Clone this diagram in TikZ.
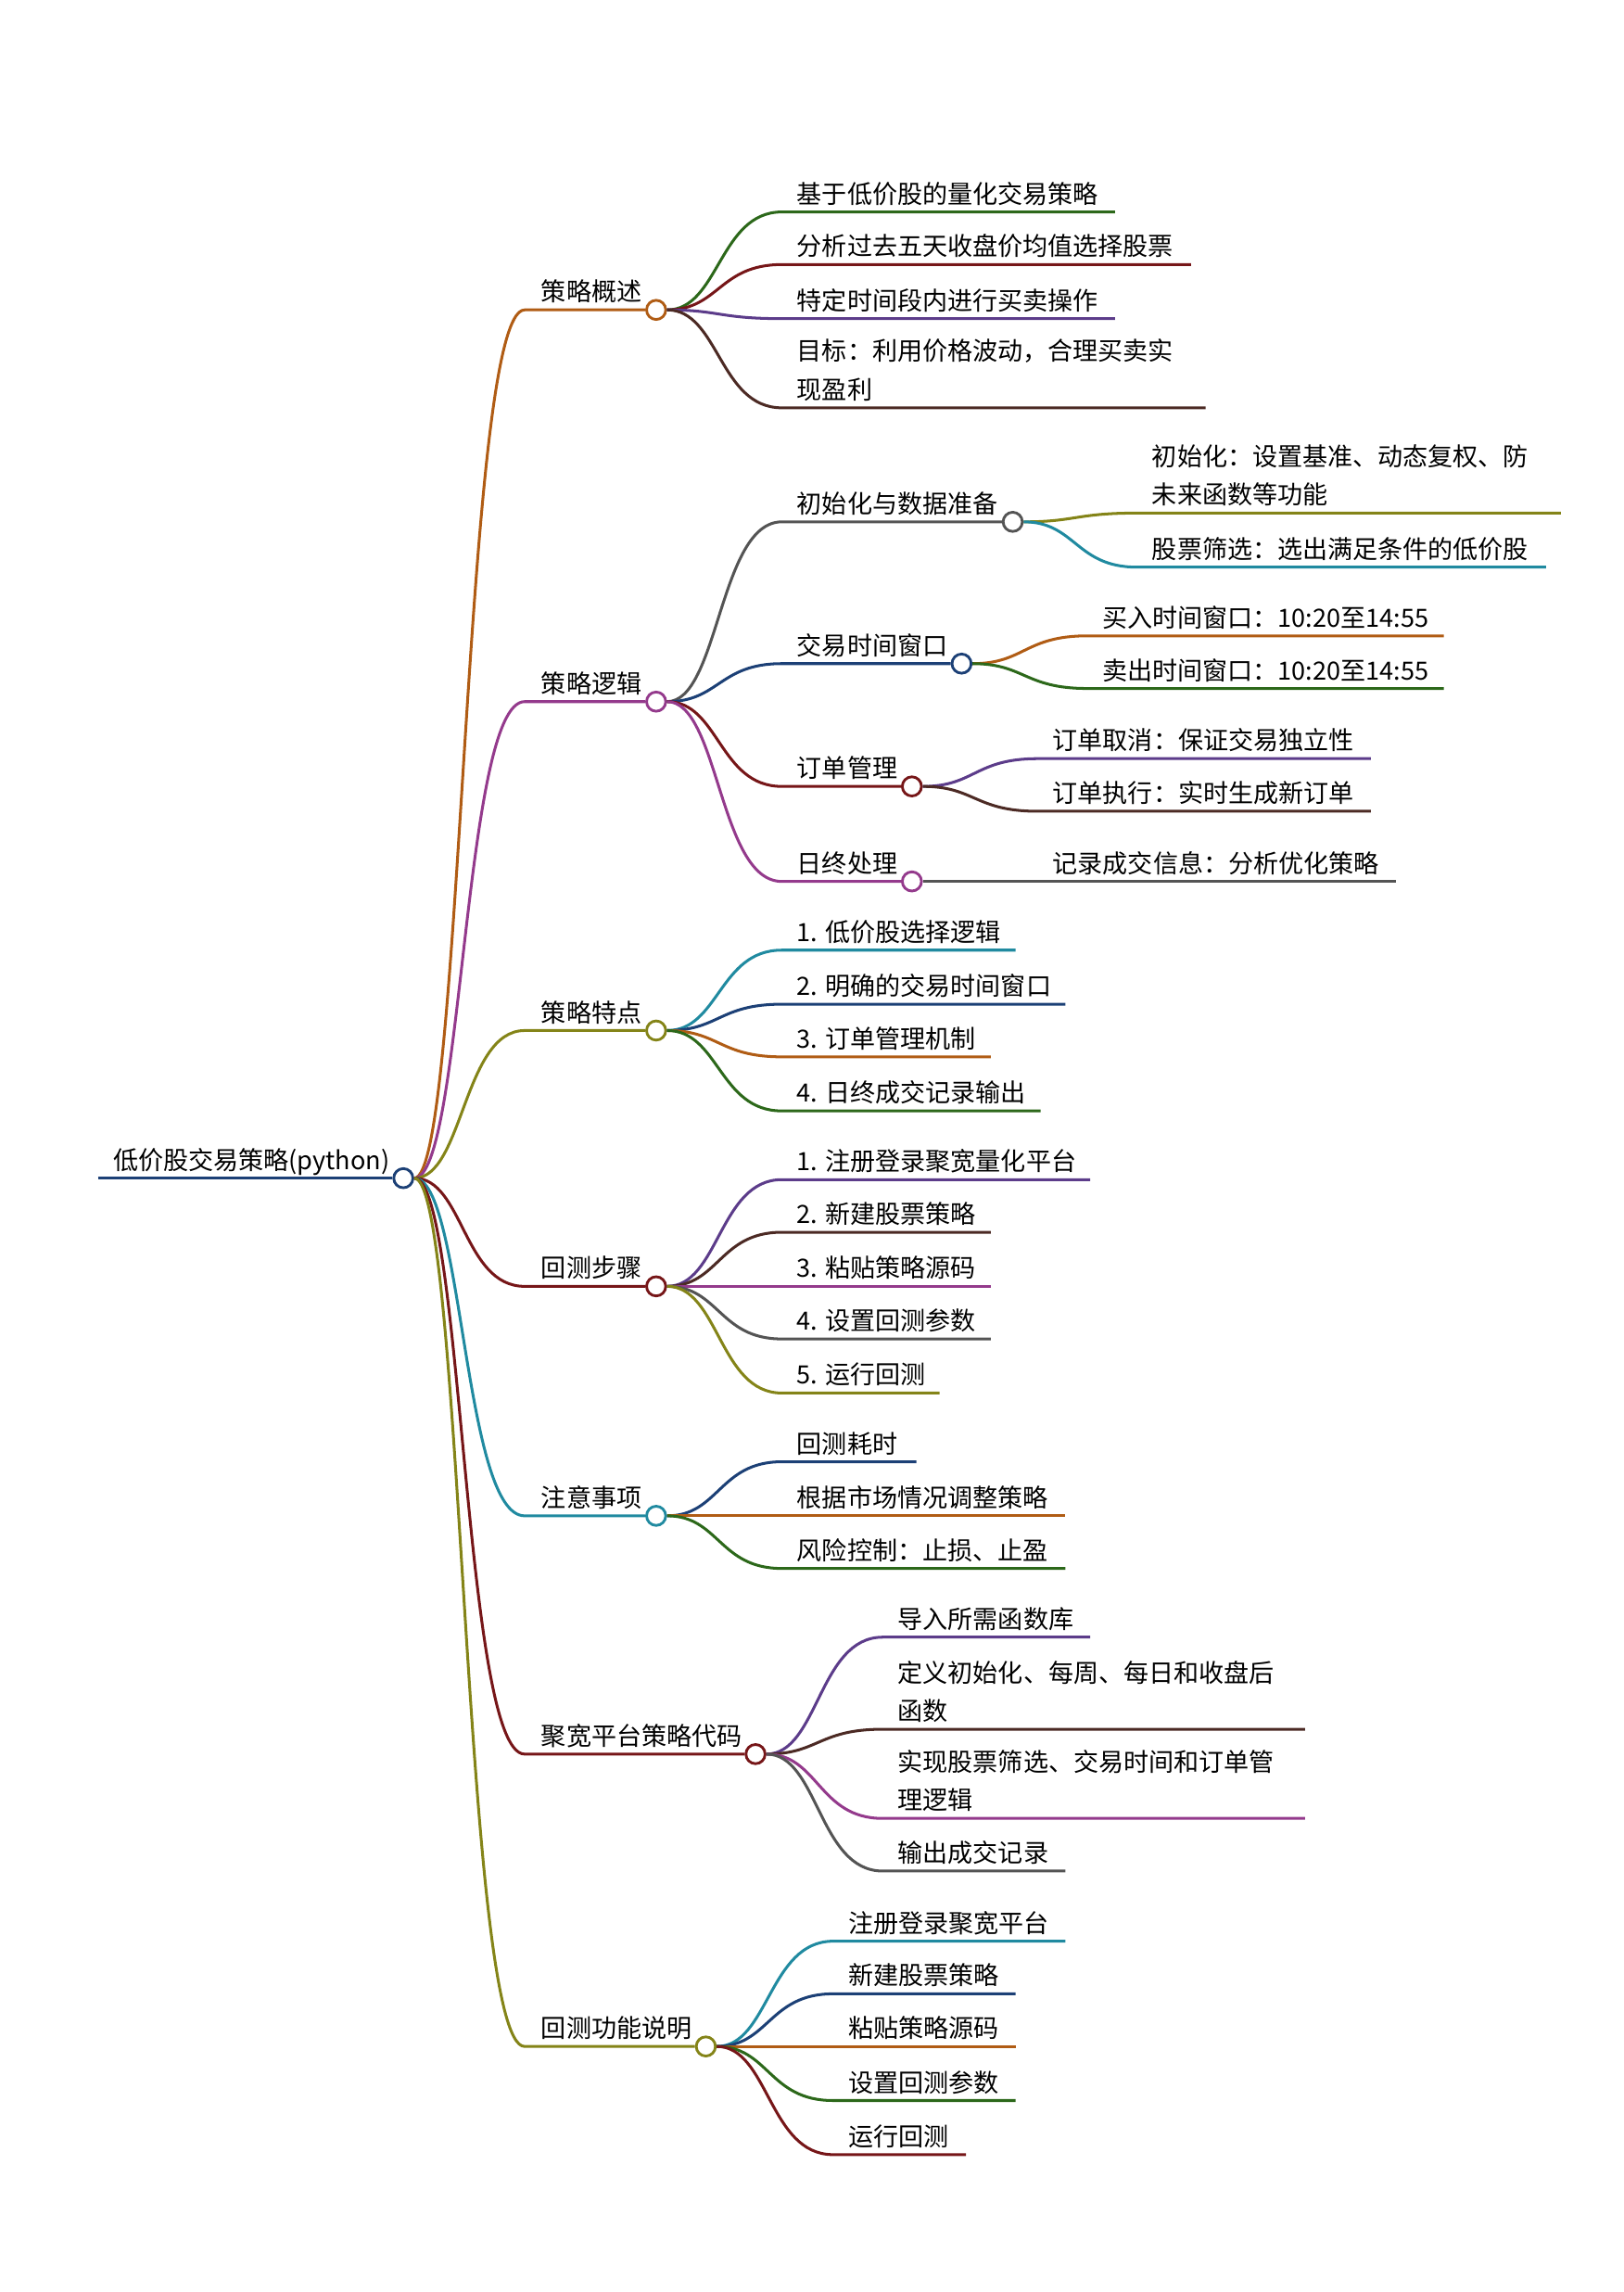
\documentclass[tikz,border=0pt]{standalone}
\usepackage{fontspec}
\setmainfont{Noto Sans CJK SC}

\definecolor{cOrange}{RGB}{176,92,20}
\definecolor{cMagenta}{RGB}{148,58,140}
\definecolor{cOlive}{RGB}{132,132,24}
\definecolor{cRed}{RGB}{118,22,24}
\definecolor{cTeal}{RGB}{32,138,160}
\definecolor{cBlue}{RGB}{28,64,118}
\definecolor{cGreen}{RGB}{44,104,26}
\definecolor{cPurple}{RGB}{92,60,138}
\definecolor{cBrown}{RGB}{76,42,36}
\definecolor{cGray}{RGB}{84,84,84}

\tikzset{
  branch/.style={line width=0.95pt},
  knot/.style={circle, draw, fill=white, line width=0.9pt, minimum size=6.5pt, inner sep=0pt},
  topic/.style={anchor=base west, inner sep=0pt, align=left}
}

\begin{document}
\begin{tikzpicture}[x=0.495pt, y=-0.495pt, every node/.style={font=\fontsize{8.5pt}{13pt}\selectfont}]
    \useasboundingbox (0,0) rectangle (1111,1568);

    % Root
    \node[knot, draw=cBlue] (root) at (276,806) {};
    \coordinate (rootS) at (67,806);
    \node[topic] (rootT) at (77,800) {低价股交易策略(python)};
    \draw[branch, cBlue] (rootS) -- (root);

    % Main branches
    \node[knot, draw=cOrange] (gl) at (449,212) {};
    \node[knot, draw=cMagenta] (lj) at (449,480) {};
    \node[knot, draw=cOlive] (td) at (449,705) {};
    \node[knot, draw=cRed] (bz) at (449,880) {};
    \node[knot, draw=cTeal] (zy) at (449,1037) {};
    \node[knot, draw=cRed] (jk) at (517,1200) {};
    \node[knot, draw=cOlive] (sm) at (483,1400) {};

    \coordinate (glS) at (359,212);
    \coordinate (ljS) at (359,480);
    \coordinate (tdS) at (359,705);
    \coordinate (bzS) at (359,880);
    \coordinate (zyS) at (359,1037);
    \coordinate (jkS) at (359,1200);
    \coordinate (smS) at (359,1400);

    \node[topic] (glT) at (370,206) {策略概述};
    \node[topic] (ljT) at (370,474) {策略逻辑};
    \node[topic] (tdT) at (370,699) {策略特点};
    \node[topic] (bzT) at (370,874) {回测步骤};
    \node[topic] (zyT) at (370,1031) {注意事项};
    \node[topic] (jkT) at (370,1194) {聚宽平台策略代码};
    \node[topic] (smT) at (370,1394) {回测功能说明};

    \draw[branch, cOrange] (root) .. controls (317,806) and (317,212) .. (glS) -- (gl);
    \draw[branch, cMagenta] (root) .. controls (317,806) and (317,480) .. (ljS) -- (lj);
    \draw[branch, cOlive] (root) .. controls (317,806) and (317,705) .. (tdS) -- (td);
    \draw[branch, cRed] (root) .. controls (317,806) and (317,880) .. (bzS) -- (bz);
    \draw[branch, cTeal] (root) .. controls (317,806) and (317,1037) .. (zyS) -- (zy);
    \draw[branch, cRed] (root) .. controls (317,806) and (317,1200) .. (jkS) -- (jk);
    \draw[branch, cOlive] (root) .. controls (317,806) and (317,1400) .. (smS) -- (sm);

    % 策略概述
    \coordinate (gl1) at (535,145); \coordinate (gl1e) at (763,145);
    \coordinate (gl2) at (535,181); \coordinate (gl2e) at (815,181);
    \coordinate (gl3) at (535,218); \coordinate (gl3e) at (763,218);
    \coordinate (gl4) at (535,279); \coordinate (gl4e) at (825,279);
    \node[topic] (gl1t) at (545,139) {基于低价股的量化交易策略};
    \node[topic] (gl2t) at (545,175) {分析过去五天收盘价均值选择股票};
    \node[topic] (gl3t) at (545,212) {特定时间段内进行买卖操作};
    \node[topic] (gl4t) at (545,273) {目标：利用价格波动，合理买卖实\\现盈利};
    \draw[branch, cGreen] (gl) .. controls (492,212) and (492,145) .. (gl1) -- (gl1e);
    \draw[branch, cRed] (gl) .. controls (492,212) and (492,181) .. (gl2) -- (gl2e);
    \draw[branch, cPurple] (gl) .. controls (492,212) and (492,218) .. (gl3) -- (gl3e);
    \draw[branch, cBrown] (gl) .. controls (492,212) and (492,279) .. (gl4) -- (gl4e);

    % 策略逻辑
    \node[knot, draw=cGray] (csh) at (693,357) {};
    \node[knot, draw=cBlue] (jy) at (658,454) {};
    \node[knot, draw=cRed] (dd) at (624,538) {};
    \node[knot, draw=cMagenta] (rz) at (624,603) {};
    \coordinate (cshS) at (535,357);
    \coordinate (jyS) at (535,454);
    \coordinate (ddS) at (535,538);
    \coordinate (rzS) at (535,603);
    \node[topic] (cshT) at (545,351) {初始化与数据准备};
    \node[topic] (jyT) at (545,448) {交易时间窗口};
    \node[topic] (ddT) at (545,532) {订单管理};
    \node[topic] (rzT) at (545,597) {日终处理};
    \draw[branch, cGray] (lj) .. controls (492,480) and (492,357) .. (cshS) -- (csh);
    \draw[branch, cBlue] (lj) .. controls (492,480) and (492,454) .. (jyS) -- (jy);
    \draw[branch, cRed] (lj) .. controls (492,480) and (492,538) .. (ddS) -- (dd);
    \draw[branch, cMagenta] (lj) .. controls (492,480) and (492,603) .. (rzS) -- (rz);

    % 初始化与数据准备
    \coordinate (csh1) at (778,351); \coordinate (csh1e) at (1068,351);
    \coordinate (csh2) at (778,388); \coordinate (csh2e) at (1058,388);
    \node[topic] (csh1t) at (788,345) {初始化：设置基准、动态复权、防\\未来函数等功能};
    \node[topic] (csh2t) at (788,382) {股票筛选：选出满足条件的低价股};
    \draw[branch, cOlive] (csh) .. controls (736,357) and (736,351) .. (csh1) -- (csh1e);
    \draw[branch, cTeal] (csh) .. controls (736,357) and (736,388) .. (csh2) -- (csh2e);

    % 交易时间窗口
    \coordinate (jy1) at (744,435); \coordinate (jy1e) at (988,435);
    \coordinate (jy2) at (744,471); \coordinate (jy2e) at (988,471);
    \node[topic] (jy1t) at (754,429) {买入时间窗口：10:20至14:55};
    \node[topic] (jy2t) at (754,465) {卖出时间窗口：10:20至14:55};
    \draw[branch, cOrange] (jy) .. controls (701,454) and (701,435) .. (jy1) -- (jy1e);
    \draw[branch, cGreen] (jy) .. controls (701,454) and (701,471) .. (jy2) -- (jy2e);

    % 订单管理
    \coordinate (dd1) at (710,519); \coordinate (dd1e) at (938,519);
    \coordinate (dd2) at (710,555); \coordinate (dd2e) at (938,555);
    \node[topic] (dd1t) at (720,513) {订单取消：保证交易独立性};
    \node[topic] (dd2t) at (720,549) {订单执行：实时生成新订单};
    \draw[branch, cPurple] (dd) .. controls (667,538) and (667,519) .. (dd1) -- (dd1e);
    \draw[branch, cBrown] (dd) .. controls (667,538) and (667,555) .. (dd2) -- (dd2e);

    % 日终处理
    \coordinate (rz1) at (710,603); \coordinate (rz1e) at (955,603);
    \node[topic] (rz1t) at (720,597) {记录成交信息：分析优化策略};
    \draw[branch, cGray] (rz) -- (rz1) -- (rz1e);

    % 策略特点
    \coordinate (td1) at (535,650); \coordinate (td1e) at (695,650);
    \coordinate (td2) at (535,687); \coordinate (td2e) at (729,687);
    \coordinate (td3) at (535,723); \coordinate (td3e) at (678,723);
    \coordinate (td4) at (535,760); \coordinate (td4e) at (712,760);
    \node[topic] (td1t) at (545,644) {1. 低价股选择逻辑};
    \node[topic] (td2t) at (545,681) {2. 明确的交易时间窗口};
    \node[topic] (td3t) at (545,717) {3. 订单管理机制};
    \node[topic] (td4t) at (545,754) {4. 日终成交记录输出};
    \draw[branch, cTeal] (td) .. controls (492,705) and (492,650) .. (td1) -- (td1e);
    \draw[branch, cBlue] (td) .. controls (492,705) and (492,687) .. (td2) -- (td2e);
    \draw[branch, cOrange] (td) .. controls (492,705) and (492,723) .. (td3) -- (td3e);
    \draw[branch, cGreen] (td) .. controls (492,705) and (492,760) .. (td4) -- (td4e);

    % 回测步骤
    \coordinate (bz1) at (535,807); \coordinate (bz1e) at (746,807);
    \coordinate (bz2) at (535,843); \coordinate (bz2e) at (678,843);
    \coordinate (bz3) at (535,880); \coordinate (bz3e) at (678,880);
    \coordinate (bz4) at (535,916); \coordinate (bz4e) at (678,916);
    \coordinate (bz5) at (535,953); \coordinate (bz5e) at (643,953);
    \node[topic] (bz1t) at (545,801) {1. 注册登录聚宽量化平台};
    \node[topic] (bz2t) at (545,837) {2. 新建股票策略};
    \node[topic] (bz3t) at (545,874) {3. 粘贴策略源码};
    \node[topic] (bz4t) at (545,910) {4. 设置回测参数};
    \node[topic] (bz5t) at (545,947) {5. 运行回测};
    \draw[branch, cPurple] (bz) .. controls (492,880) and (492,807) .. (bz1) -- (bz1e);
    \draw[branch, cBrown] (bz) .. controls (492,880) and (492,843) .. (bz2) -- (bz2e);
    \draw[branch, cMagenta] (bz) -- (bz3) -- (bz3e);
    \draw[branch, cGray] (bz) .. controls (492,880) and (492,916) .. (bz4) -- (bz4e);
    \draw[branch, cOlive] (bz) .. controls (492,880) and (492,953) .. (bz5) -- (bz5e);

    % 注意事项
    \coordinate (zy1) at (535,1000); \coordinate (zy1e) at (627,1000);
    \coordinate (zy2) at (535,1037); \coordinate (zy2e) at (729,1037);
    \coordinate (zy3) at (535,1073); \coordinate (zy3e) at (729,1073);
    \node[topic] (zy1t) at (545,994) {回测耗时};
    \node[topic] (zy2t) at (545,1031) {根据市场情况调整策略};
    \node[topic] (zy3t) at (545,1067) {风险控制：止损、止盈};
    \draw[branch, cBlue] (zy) .. controls (492,1037) and (492,1000) .. (zy1) -- (zy1e);
    \draw[branch, cOrange] (zy) -- (zy2) -- (zy2e);
    \draw[branch, cGreen] (zy) .. controls (492,1037) and (492,1073) .. (zy3) -- (zy3e);

    % 聚宽平台策略代码
    \coordinate (jk1) at (604,1120); \coordinate (jk1e) at (746,1120);
    \coordinate (jk2) at (604,1183); \coordinate (jk2e) at (893,1183);
    \coordinate (jk3) at (604,1244); \coordinate (jk3e) at (893,1244);
    \coordinate (jk4) at (604,1280); \coordinate (jk4e) at (729,1280);
    \node[topic] (jk1t) at (614,1114) {导入所需函数库};
    \node[topic] (jk2t) at (614,1177) {定义初始化、每周、每日和收盘后\\函数};
    \node[topic] (jk3t) at (614,1238) {实现股票筛选、交易时间和订单管\\理逻辑};
    \node[topic] (jk4t) at (614,1274) {输出成交记录};
    \draw[branch, cPurple] (jk) .. controls (560,1200) and (560,1120) .. (jk1) -- (jk1e);
    \draw[branch, cBrown] (jk) .. controls (560,1200) and (560,1183) .. (jk2) -- (jk2e);
    \draw[branch, cMagenta] (jk) .. controls (560,1200) and (560,1244) .. (jk3) -- (jk3e);
    \draw[branch, cGray] (jk) .. controls (560,1200) and (560,1280) .. (jk4) -- (jk4e);

    % 回测功能说明
    \coordinate (sm1) at (570,1328); \coordinate (sm1e) at (729,1328);
    \coordinate (sm2) at (570,1364); \coordinate (sm2e) at (695,1364);
    \coordinate (sm3) at (570,1400); \coordinate (sm3e) at (695,1400);
    \coordinate (sm4) at (570,1437); \coordinate (sm4e) at (695,1437);
    \coordinate (sm5) at (570,1474); \coordinate (sm5e) at (661,1474);
    \node[topic] (sm1t) at (580,1322) {注册登录聚宽平台};
    \node[topic] (sm2t) at (580,1358) {新建股票策略};
    \node[topic] (sm3t) at (580,1394) {粘贴策略源码};
    \node[topic] (sm4t) at (580,1431) {设置回测参数};
    \node[topic] (sm5t) at (580,1468) {运行回测};
    \draw[branch, cTeal] (sm) .. controls (526,1400) and (526,1328) .. (sm1) -- (sm1e);
    \draw[branch, cBlue] (sm) .. controls (526,1400) and (526,1364) .. (sm2) -- (sm2e);
    \draw[branch, cOrange] (sm) -- (sm3) -- (sm3e);
    \draw[branch, cGreen] (sm) .. controls (526,1400) and (526,1437) .. (sm4) -- (sm4e);
    \draw[branch, cRed] (sm) .. controls (526,1400) and (526,1474) .. (sm5) -- (sm5e);
\end{tikzpicture}
\end{document}
